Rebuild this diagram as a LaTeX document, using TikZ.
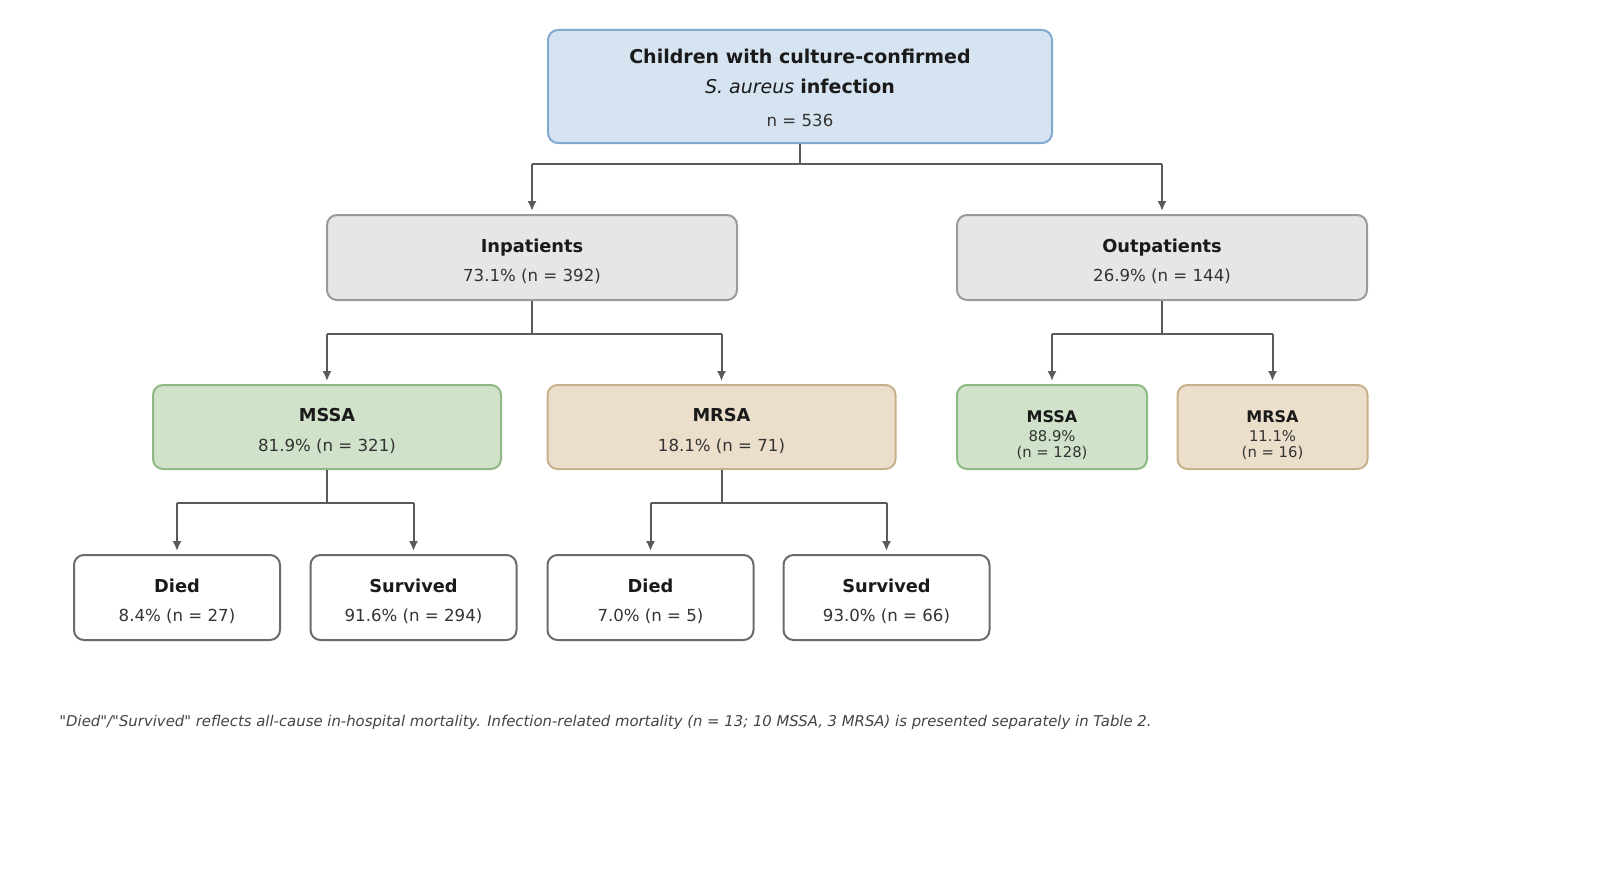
\documentclass[tikz,border=0pt]{standalone}
\usepackage{fontspec}
\setmainfont{DejaVu Sans}
\newfontfamily\notefont{DejaVu Sans}
\usepackage{xcolor}
\usetikzlibrary{arrows.meta,positioning}
\definecolor{topfill}{HTML}{D6E4F1}
\definecolor{topline}{HTML}{80A8D0}
\definecolor{grayfill}{HTML}{E6E6E6}
\definecolor{grayline}{HTML}{9A9A9A}
\definecolor{msfill}{HTML}{D0E2CA}
\definecolor{msline}{HTML}{8FB984}
\definecolor{mrfill}{HTML}{EBDFCB}
\definecolor{mrline}{HTML}{C9B08C}
\definecolor{endline}{HTML}{6B6B6B}
\definecolor{linkc}{HTML}{5A5A5A}
\definecolor{headc}{HTML}{1A1A1A}
\definecolor{valc}{HTML}{333333}
\definecolor{notec}{HTML}{444444}
% headline of a box; the strut pushes the text block a little down
\newcommand{\hd}[2][10.5pt]{{\fontsize{8.9}{14.8}\selectfont\bfseries\color{headc}\rule{0pt}{#1}#2}}
\newcommand{\hdsmall}[1]{{\fontsize{8}{10}\selectfont\bfseries\color{headc}\rule{0pt}{14pt}#1}}
\tikzset{
  box/.style={draw=endline,line width=1pt,rounded corners=5pt,fill=white,
    inner sep=0pt,align=center,text=valc,
    font=\fontsize{8.3}{14.8}\selectfont},
  topbox/.style={box,draw=topline,fill=topfill,minimum width=252pt,minimum height=56.5pt},
  groupbox/.style={box,draw=grayline,fill=grayfill,minimum width=205pt,minimum height=42.5pt},
  mssabox/.style={box,draw=msline,fill=msfill,minimum width=174pt,minimum height=42pt},
  mrsabox/.style={box,draw=mrline,fill=mrfill,minimum width=174pt,minimum height=42pt},
  smallbox/.style={minimum width=95pt,font=\fontsize{7.4}{8.2}\selectfont},
  endbox/.style={box,minimum width=103pt,minimum height=42.5pt},
  link/.style={draw=linkc,line width=1pt},
  flow/.style={link,-{Latex[length=5pt,width=4.6pt]},shorten >=1.5pt},
  note/.style={font=\notefont\fontsize{7.43}{8}\selectfont\itshape,text=notec,anchor=west,inner sep=0pt},
}
\begin{document}
\begin{tikzpicture}[x=0.5pt,y=-0.5pt]
  \path[use as bounding box] (0,0) rectangle (1600,872);
  % cohort
  \node[topbox] (top) at (800,86.5)
    {{\fontsize{9.5}{14.8}\selectfont\bfseries\color{headc}\rule{0pt}{9pt}Children with culture-confirmed}\\
     {\fontsize{9.5}{15}\selectfont\color{headc}\textit{S.~aureus} \textbf{infection}}\\[1.8pt]
     n = 536};
  % care setting
  \node[groupbox] (inp)  at (532,257.5)  {\hd{Inpatients}\\ 73.1\% (n = 392)};
  \node[groupbox] (outp) at (1162,257.5) {\hd{Outpatients}\\ 26.9\% (n = 144)};
  % resistance
  \node[mssabox] (mssa) at (327,427)   {\hd{MSSA}\\ 81.9\% (n = 321)};
  \node[mrsabox] (mrsa) at (721.5,427) {\hd{MRSA}\\ 18.1\% (n = 71)};
  \node[mssabox,smallbox] (omssa) at (1052,427)
    {\hdsmall{MSSA}\\[1.2pt] 88.9\%\\ (n = 128)};
  \node[mrsabox,smallbox] (omrsa) at (1272.5,427)
    {\hdsmall{MRSA}\\[1.2pt] 11.1\%\\ (n = 16)};
  % outcome
  \node[endbox] (d1) at (177,597.5)   {\hd{Died}\\ 8.4\% (n = 27)};
  \node[endbox] (s1) at (413.5,597.5) {\hd{Survived}\\ 91.6\% (n = 294)};
  \node[endbox] (d2) at (650.5,597.5) {\hd{Died}\\ 7.0\% (n = 5)};
  \node[endbox] (s2) at (886.5,597.5) {\hd{Survived}\\ 93.0\% (n = 66)};
  % connectors
  \coordinate (b0) at (800,164);
  \coordinate (b1) at (532,334);
  \coordinate (b2) at (1162,334);
  \coordinate (b3) at (327,503);
  \coordinate (b4) at (721.5,503);
  \draw[link] (top.south) -- (b0);
  \draw[link] (inp |- b0) -- (outp |- b0);
  \draw[flow] (inp |- b0) -- (inp.north);
  \draw[flow] (outp |- b0) -- (outp.north);
  \draw[link] (inp.south) -- (b1);
  \draw[link] (mssa |- b1) -- (mrsa |- b1);
  \draw[flow] (mssa |- b1) -- (mssa.north);
  \draw[flow] (mrsa |- b1) -- (mrsa.north);
  \draw[link] (outp.south) -- (b2);
  \draw[link] (omssa |- b2) -- (omrsa |- b2);
  \draw[flow] (omssa |- b2) -- (omssa.north);
  \draw[flow] (omrsa |- b2) -- (omrsa.north);
  \draw[link] (mssa.south) -- (b3);
  \draw[link] (d1 |- b3) -- (s1 |- b3);
  \draw[flow] (d1 |- b3) -- (d1.north);
  \draw[flow] (s1 |- b3) -- (s1.north);
  \draw[link] (mrsa.south) -- (b4);
  \draw[link] (d2 |- b4) -- (s2 |- b4);
  \draw[flow] (d2 |- b4) -- (d2.north);
  \draw[flow] (s2 |- b4) -- (s2.north);
  % footnote
  \node[note] (fn) at (59,722)
    {"Died"/"Survived" reflects all-cause in-hospital mortality. Infection-related mortality (n = 13; 10 MSSA, 3 MRSA) is presented separately in Table 2.};
\end{tikzpicture}
\end{document}
